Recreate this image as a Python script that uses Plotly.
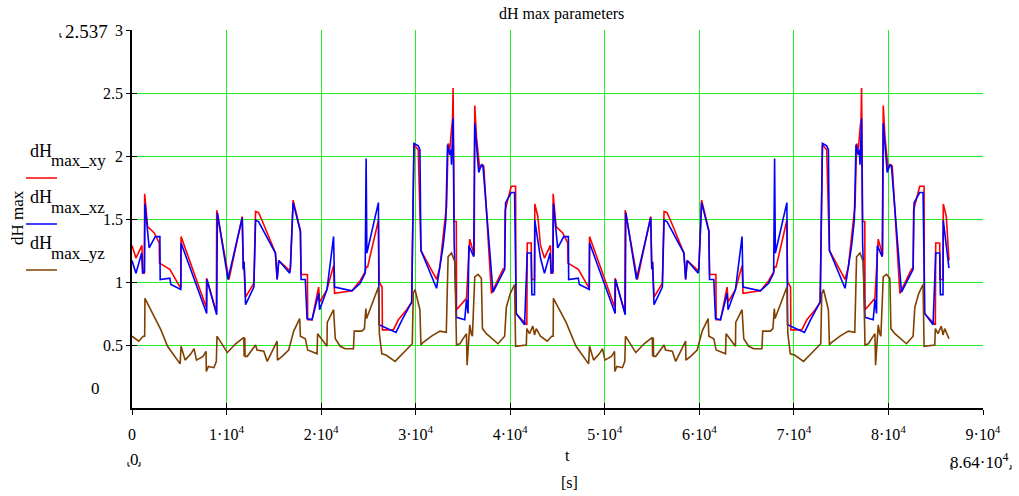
import plotly.graph_objects as go

# ---------------- data ----------------
# dH_max_xy (red), first half-day and second half-day
t_xy_am = [0, 420, 1050, 1130, 1300, 1340, 1650, 2350, 2880, 2910, 4000, 5160, 5190, 7850, 7880, 8920, 8960, 10250,
           11660, 11770, 11850, 12010, 12890, 13070, 13380, 13800, 15170, 15350, 15520, 16680, 16750, 17040, 17810,
           17880, 18550, 18580, 19040, 19740, 19840, 20620, 21320, 21420, 23260, 24130, 24660, 24760, 24920, 26060,
           26130, 26450, 26480, 27640, 28170, 29050, 29580, 29660, 29820, 30270, 30560, 32210, 32560, 33090, 33270,
           33430, 33610, 33790, 33900, 33960, 34070, 34300, 34320, 35370, 35720, 36190, 36250, 36430, 36600, 36770,
           37060, 37200, 38010, 39230, 39410, 39460, 40110, 40570, 40600, 41760, 41800, 42220, 42260, 42570, 42600,
           42920, 43200]
dH_xy_am = [1.29, 1.19, 1.29, 1.07, 1.07, 1.70, 1.44, 1.39, 1.31, 1.15, 1.10, 0.95, 1.36, 0.80, 1.03, 0.76, 1.57, 1.02,
            1.52, 1.11, 1.16, 0.88, 0.99, 1.56, 1.55, 1.48, 1.23, 1.02, 1.17, 1.09, 1.11, 1.65, 1.41,
            1.06, 1.06, 0.70, 0.70, 0.96, 0.84, 0.94, 1.13, 0.91, 0.93, 1.01, 1.08, 1.12, 1.12, 1.49,
            1.00, 0.96, 0.62, 0.62, 0.70, 0.78, 0.84, 1.32, 2.09, 2.05, 1.25, 1.02, 1.12, 1.49, 1.60,
            2.10, 2.05, 2.21, 2.29, 2.54, 1.48, 1.48, 0.78, 0.87, 1.34, 1.21, 2.40, 2.15, 2.03, 1.90,
            1.93, 1.92, 0.91, 1.10, 1.11, 1.57, 1.76, 1.76, 0.75, 0.66, 1.31, 1.31, 1.02, 1.02, 1.62,
            1.52, 1.29]
t_xy_pm = [43620, 44250, 44330, 44500, 44540, 44850, 45550, 46080, 46110, 47200, 48360, 48390, 51050, 51080, 52120,
           52160, 53450, 54860, 54970, 55050, 55210, 56090, 56270, 56580, 57000, 58370, 58550, 58720, 59880, 59950,
           60240, 61010, 61080, 61750, 61780, 62240, 62940, 63040, 63820, 64520, 64620, 66460, 67330, 67860, 67960,
           68120, 69260, 69330, 69650, 69680, 70840, 71370, 72250, 72780, 72860, 73020, 73470, 73760, 75410, 75760,
           76290, 76470, 76630, 76810, 76990, 77100, 77160, 77270, 77500, 77520, 78570, 78920, 79390, 79450, 79630,
           79800, 79970, 80260, 80400, 81210, 82430, 82610, 82660, 83310, 83770, 83800, 84960, 85000, 85420, 85460,
           85770, 85800, 86120, 86400]
dH_xy_pm = [1.19, 1.29, 1.07, 1.07, 1.70, 1.44, 1.39, 1.31, 1.15, 1.10, 0.95, 1.36, 0.80, 1.03, 0.76,
            1.57, 1.02, 1.52, 1.11, 1.16, 0.88, 0.99, 1.56, 1.55, 1.48, 1.23, 1.02, 1.17, 1.09, 1.11,
            1.65, 1.41, 1.06, 1.06, 0.70, 0.70, 0.96, 0.84, 0.94, 1.13, 0.91, 0.93, 1.01, 1.08, 1.12,
            1.12, 1.49, 1.00, 0.96, 0.62, 0.62, 0.70, 0.78, 0.84, 1.32, 2.09, 2.05, 1.25, 1.02, 1.12,
            1.49, 1.60, 2.10, 2.05, 2.21, 2.29, 2.54, 1.48, 1.48, 0.78, 0.87, 1.34, 1.21, 2.40, 2.15,
            2.03, 1.90, 1.93, 1.92, 0.91, 1.10, 1.11, 1.57, 1.76, 1.76, 0.75, 0.66, 1.31, 1.31, 1.02,
            1.02, 1.62, 1.52, 1.17]

# dH_max_xz (blue)
t_xz_am = [0, 420, 1020, 1130, 1320, 1370, 1820, 2460, 2950, 2980, 4000, 4110, 5160, 5190, 7900, 7930, 8960, 8990,
           9030, 10150, 11660, 11770, 11850, 12010, 12890, 13070, 13380, 15170, 15350, 15520, 16680, 16750, 17040,
           17810, 17880, 18330, 18510, 19040, 19740, 19840, 20620, 21320, 21420, 23260, 24130, 24660, 24760, 24840,
           26060, 26130, 26940, 27920, 28560, 29580, 29660, 29820, 30270, 30450, 30560, 32210, 32910, 33190, 33370,
           33610, 33720, 33790, 33960, 34070, 34320, 35190, 35370, 35540, 35620, 36140, 36250, 36670, 36950, 37120,
           38180, 39410, 39510, 40110, 40460, 40640, 41520, 41800, 42220, 42290, 42570, 42600, 43200]
dH_xz_am = [1.17, 1.07, 1.23, 1.07, 1.08, 1.62, 1.27, 1.36, 1.36, 1.02, 1.03, 0.98, 0.94, 1.31, 0.75, 1.02, 0.74, 1.07,
            1.55, 1.02, 1.51, 1.10, 1.16, 0.82, 0.96, 1.49, 1.48, 1.23, 1.02, 1.17, 1.07, 1.11, 1.63,
            1.40, 1.02, 1.02, 0.71, 0.70, 0.91, 0.78, 0.94, 1.36, 0.96, 0.93, 0.99, 1.07, 1.98, 1.23,
            1.63, 0.66, 0.63, 0.60, 0.70, 0.84, 1.27, 2.10, 2.08, 2.05, 1.25, 0.95, 1.29, 1.49, 2.09,
            2.01, 2.05, 1.93, 2.30, 1.31, 0.72, 0.70, 0.86, 0.75, 1.29, 1.20, 2.26, 1.87, 1.93, 1.92,
            0.92, 1.10, 1.63, 1.71, 1.71, 0.75, 0.66, 1.23, 1.23, 0.90, 0.90, 1.49, 1.19]
t_xz_pm = [43620, 44220, 44330, 44520, 44570, 45020, 45660, 46150, 46180, 47200, 47310, 48360, 48390, 51100, 51130,
           52160, 52190, 52230, 53350, 54860, 54970, 55050, 55210, 56090, 56270, 56580, 58370, 58550, 58720, 59880,
           59950, 60240, 61010, 61080, 61530, 61710, 62240, 62940, 63040, 63820, 64520, 64620, 66460, 67330, 67860,
           67960, 68040, 69260, 69330, 70140, 71120, 71760, 72780, 72860, 73020, 73470, 73650, 73760, 75410, 76110,
           76390, 76570, 76810, 76920, 76990, 77160, 77270, 77520, 78390, 78570, 78740, 78820, 79340, 79450, 79870,
           80150, 80320, 81380, 82610, 82710, 83310, 83660, 83840, 84720, 85000, 85420, 85490, 85770, 85800, 86400]
dH_xz_pm = [1.07, 1.23, 1.07, 1.08, 1.62, 1.27, 1.36, 1.36, 1.02, 1.03, 0.98, 0.94, 1.31, 0.75, 1.02,
            0.74, 1.07, 1.55, 1.02, 1.51, 1.10, 1.16, 0.82, 0.96, 1.49, 1.48, 1.23, 1.02, 1.17, 1.07,
            1.11, 1.63, 1.40, 1.02, 1.02, 0.71, 0.70, 0.91, 0.78, 0.94, 1.36, 0.96, 0.93, 0.99, 1.07,
            1.98, 1.23, 1.63, 0.66, 0.63, 0.60, 0.70, 0.84, 1.27, 2.10, 2.08, 2.05, 1.25, 0.95, 1.29,
            1.49, 2.09, 2.01, 2.05, 1.93, 2.30, 1.31, 0.72, 0.70, 0.86, 0.75, 1.29, 1.20, 2.26, 1.87,
            1.93, 1.92, 0.92, 1.10, 1.63, 1.71, 1.71, 0.75, 0.66, 1.23, 1.23, 0.90, 0.90, 1.49, 1.11]

# dH_max_yz (brown)
t_yz_am = [0, 710, 1190, 1340, 1370, 2710, 3060, 3760, 5090, 5190, 5620, 6220, 6560, 6820, 7510, 7830, 7860, 8080,
           8670, 8920, 8990, 10080, 10960, 11830, 11860, 11930, 11960, 12190, 13070, 13220, 13940, 14300, 15350,
           15380, 15880, 16570, 17100, 17730, 17810, 18330, 18580, 19570, 19630, 20620, 20650, 21320, 21500, 22020,
           22550, 23420, 23500, 24310, 24580, 24730, 24810, 26060, 26160, 26420, 26870, 27820, 28870, 29640, 29750,
           29930, 30450, 30560, 30770, 31680, 32560, 33240, 33430, 33790, 34140, 34250, 34320, 34670, 35370, 35440,
           35540, 35720, 35880, 36000, 36250, 36600, 36950, 37060, 37480, 38180, 38700, 39410, 39590, 40010, 40460,
           40570, 41700, 41760, 42040, 42390, 42570, 42750, 43100]
dH_yz_am = [0.57, 0.53, 0.57, 0.57, 0.87, 0.68, 0.62, 0.49, 0.35, 0.49, 0.38, 0.43, 0.47, 0.38, 0.41, 0.45, 0.29, 0.33,
            0.32, 0.37, 0.57, 0.44, 0.51, 0.56, 0.41, 0.56, 0.41, 0.41, 0.50, 0.46, 0.45, 0.37, 0.53,
            0.38, 0.41, 0.46, 0.61, 0.71, 0.57, 0.55, 0.46, 0.43, 0.59, 0.49, 0.68, 0.78, 0.55, 0.49,
            0.47, 0.47, 0.61, 0.61, 0.63, 0.79, 0.71, 0.96, 0.59, 0.43, 0.42, 0.37, 0.45, 0.51, 0.91,
            0.94, 0.78, 0.50, 0.52, 0.57, 0.61, 0.60, 1.20, 1.23, 1.16, 0.78, 0.50, 0.51, 0.59, 0.34,
            0.47, 0.66, 0.59, 0.57, 1.04, 1.06, 1.03, 0.63, 0.59, 0.54, 0.51, 0.57, 0.80, 0.91, 0.98,
            0.49, 0.50, 0.63, 0.59, 0.65, 0.58, 0.63, 0.58]
t_yz_pm = [43200, 43910, 44390, 44540, 44570, 45910, 46260, 46960, 48290, 48390, 48820, 49420, 49760, 50020, 50710,
           51030, 51060, 51280, 51870, 52120, 52190, 53280, 54160, 55030, 55060, 55130, 55160, 55390, 56270, 56420,
           57140, 57500, 58550, 58580, 59080, 59770, 60300, 60930, 61010, 61530, 61780, 62770, 62830, 63820, 63850,
           64520, 64700, 65220, 65750, 66620, 66700, 67510, 67780, 67930, 68010, 69260, 69360, 69620, 70070, 71020,
           72070, 72840, 72950, 73130, 73650, 73760, 73970, 74880, 75760, 76440, 76630, 76990, 77340, 77450, 77520,
           77870, 78570, 78640, 78740, 78920, 79080, 79200, 79450, 79800, 80150, 80260, 80680, 81380, 81900, 82610,
           82790, 83210, 83660, 83770, 84900, 84960, 85240, 85590, 85770, 85950, 86400]
dH_yz_pm = [0.57, 0.53, 0.57, 0.57, 0.87, 0.68, 0.62, 0.49, 0.35, 0.49, 0.38, 0.43, 0.47, 0.38, 0.41,
            0.45, 0.29, 0.33, 0.32, 0.37, 0.57, 0.44, 0.51, 0.56, 0.41, 0.56, 0.41, 0.41, 0.50, 0.46,
            0.45, 0.37, 0.53, 0.38, 0.41, 0.46, 0.61, 0.71, 0.57, 0.55, 0.46, 0.43, 0.59, 0.49, 0.68,
            0.78, 0.55, 0.49, 0.47, 0.47, 0.61, 0.61, 0.63, 0.79, 0.71, 0.96, 0.59, 0.43, 0.42, 0.37,
            0.45, 0.51, 0.91, 0.94, 0.78, 0.50, 0.52, 0.57, 0.61, 0.60, 1.20, 1.23, 1.16, 0.78, 0.50,
            0.51, 0.59, 0.34, 0.47, 0.66, 0.59, 0.57, 1.04, 1.06, 1.03, 0.63, 0.59, 0.54, 0.51, 0.57,
            0.80, 0.91, 0.98, 0.49, 0.50, 0.63, 0.59, 0.65, 0.58, 0.63, 0.55]

x_tick_vals = [0, 10000, 20000, 30000, 40000, 50000, 60000, 70000, 80000, 90000]
x_tick_text = ["0", "1·10<sup>4</sup>", "2·10<sup>4</sup>", "3·10<sup>4</sup>", "4·10<sup>4</sup>",
               "5·10<sup>4</sup>", "6·10<sup>4</sup>", "7·10<sup>4</sup>", "8·10<sup>4</sup>", "9·10<sup>4</sup>"]
y_tick_vals = [0.5, 1, 1.5, 2, 2.5, 3]
y_tick_text = ["0.5", "1", "1.5", "2", "2.5", "3"]

series_names = ["max_xy", "max_xz", "max_yz"]
series_colors = ["#ff0000", "#0000ff", "#804000"]

# ---------------- figure ----------------
W, H = 1019, 496
L, R, T, B = 132, 36, 30, 88
PW, PH = W - L - R, H - T - B
FONT = "Liberation Serif"


def px(xp):
    return (xp - L) / PW


def py(yp):
    return (H - B - yp) / PH


fig = go.Figure()
series = [(t_xy_am + t_xy_pm, dH_xy_am + dH_xy_pm),
          (t_xz_am + t_xz_pm, dH_xz_am + dH_xz_pm),
          (t_yz_am + t_yz_pm, dH_yz_am + dH_yz_pm)]
for (tt, vv), name, col in zip(series, series_names, series_colors):
    fig.add_trace(go.Scatter(x=tt, y=vv, mode="lines", name=name,
                             line=dict(color=col, width=1.6), hoverinfo="skip"))
# empty trace on overlay axes to draw the inner half of the crossing ticks
fig.add_trace(go.Scatter(x=[], y=[], xaxis="x2", yaxis="y2", showlegend=False))

grid = "#22ee22"
fig.update_layout(
    width=W, height=H, autosize=False,
    margin=dict(l=L, r=R, t=T, b=B, pad=0),
    paper_bgcolor="white", plot_bgcolor="white",
    showlegend=False,
    font=dict(family=FONT, size=16, color="black"),
    xaxis=dict(range=[0, 90000], tickmode="array", tickvals=x_tick_vals, ticktext=x_tick_text,
               showgrid=True, gridcolor=grid, gridwidth=1, zeroline=False,
               showline=True, linecolor="black", linewidth=1.5,
               ticks="outside", ticklen=5, tickwidth=1.2, tickcolor="black",
               ticklabelstandoff=6, tickfont=dict(family=FONT, size=16)),
    yaxis=dict(range=[0, 3], tickmode="array", tickvals=y_tick_vals, ticktext=y_tick_text,
               showgrid=True, gridcolor=grid, gridwidth=1, zeroline=False,
               showline=True, linecolor="black", linewidth=1.5,
               ticks="outside", ticklen=4, tickwidth=1.2, tickcolor="black",
               ticklabelstandoff=0, tickfont=dict(family=FONT, size=16)),
    xaxis2=dict(overlaying="x", anchor="y2", range=[0, 90000], tickmode="array", tickvals=x_tick_vals,
                ticks="inside", ticklen=5, tickwidth=1.2, tickcolor="black", showticklabels=False,
                showgrid=False, zeroline=False, showline=False),
    yaxis2=dict(overlaying="y", anchor="x2", range=[0, 3], tickmode="array", tickvals=y_tick_vals,
                ticks="inside", ticklen=5, tickwidth=1.2, tickcolor="black", showticklabels=False,
                showgrid=False, zeroline=False, showline=False),
)

ann = []


def text(x, y, s, size=16, xanchor="center", yanchor="middle", angle=0):
    ann.append(dict(x=px(x), y=py(y), xref="paper", yref="paper", text=s, showarrow=False,
                    xanchor=xanchor, yanchor=yanchor, textangle=angle,
                    font=dict(family=FONT, size=size, color="black")))


text(561, 14, "dH max parameters")
text(86, 31, "2.537", size=19)
text(95, 388, "0", size=17)
text(134, 459, "0", size=17)
text(979, 461, "8.64·10<sup>4</sup>", size=17)
text(567, 455, "t")
text(569, 482, "[s]")
text(17, 218, "dH max", angle=-90, size=17)

legend_rows = [151, 197, 243]
legend_lines = [178, 224, 270]
for i, (name, col) in enumerate(zip(series_names, series_colors)):
    text(28, legend_rows[i], "dH", size=18, xanchor="left")
    text(49, legend_rows[i] + 10, name, size=17, xanchor="left")

fig.update_layout(annotations=ann)

shapes = []
for i, col in enumerate(series_colors):
    shapes.append(dict(type="line", xref="paper", yref="paper", x0=px(26), x1=px(57),
                       y0=py(legend_lines[i]), y1=py(legend_lines[i]), line=dict(color=col, width=1.5)))
# small limit-marker corner brackets
for (x0, y0, dx) in [(60, 37, 1), (128, 466, 1), (140, 466, -1), (951, 469, 1), (1011, 469, -1)]:
    shapes.append(dict(type="path", xref="paper", yref="paper",
                       path=f"M {px(x0)} {py(y0 - 4)} L {px(x0)} {py(y0)} L {px(x0 + 2 * dx)} {py(y0)}",
                       line=dict(color="black", width=1)))
fig.update_layout(shapes=shapes)

fig.write_html("out.html")
